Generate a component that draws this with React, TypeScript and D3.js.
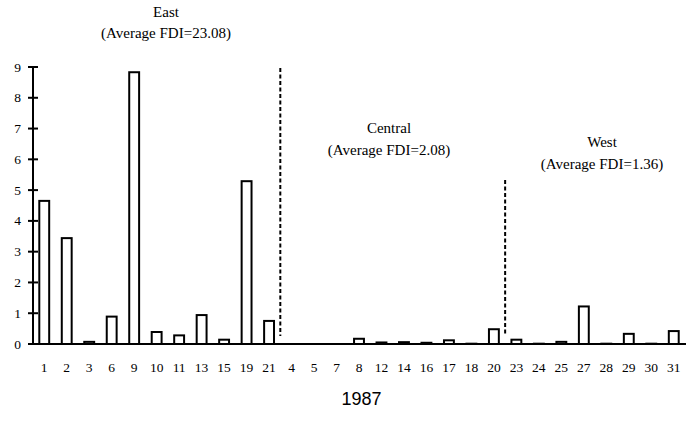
import React from "react";
import * as d3 from "d3";

const categories = ["1","2","3","6","9","10","11","13","15","19","21","4","5","7","8","12","14","16","17","18","20","23","24","25","27","28","29","30","31"];
const values = [4.65,3.44,0.07,0.89,8.83,0.39,0.28,0.94,0.14,5.29,0.75,0,0,0,0.17,0.05,0.06,0.04,0.12,0.01,0.48,0.14,0.01,0.07,1.22,0.01,0.33,0.01,0.42];
const yTicks = [0,1,2,3,4,5,6,7,8,9];
const regions = [
  { name: "East", avg: "(Average FDI=23.08)" },
  { name: "Central", avg: "(Average FDI=2.08)" },
  { name: "West", avg: "(Average FDI=1.36)" },
];
const yearLabel = "1987";

const W = 686, H = 433;
const left = 33, right = 685, top = 67, bottom = 344;
const serif = "'Liberation Serif'";
const sans = "'Liberation Sans'";

export default function App() {
  const x = d3.scaleBand<string>().domain(categories).range([left, right]).paddingInner(0.56).paddingOuter(0.28);
  const y = d3.scaleLinear().domain([0, 9]).range([bottom, top]);
  const boundary1 = (x("21")! + x("4")! + x.bandwidth()) / 2;
  const boundary2 = (x("20")! + x("23")! + x.bandwidth()) / 2;
  const labelPos = [
    { x: 166, y1: 17, y2: 38 },
    { x: 389, y1: 133, y2: 155 },
    { x: 602, y1: 147, y2: 169 },
  ];
  const serifStyle = { fontFamily: serif };
  return (
    <svg width={W} height={H} style={{ position: "absolute", left: 0, top: 0, background: "#fff" }}>
      {categories.map((c, i) => {
        const v = values[i];
        if (v <= 0) return null;
        const h = bottom - y(v);
        return (
          <rect key={c} x={x(c)!} y={y(v)} width={x.bandwidth()} height={h}
            fill="#fff" stroke="#000" strokeWidth={2} />
        );
      })}
      <line x1={left} x2={W} y1={bottom} y2={bottom} stroke="#000" strokeWidth={2} />
      {categories.map((c) => (
        <text key={"xl" + c} x={x(c)! + x.bandwidth() / 2} y={372} textAnchor="middle"
          style={serifStyle} fontSize={13.5} fill="#000">{c}</text>
      ))}
      <line x1={left} x2={left} y1={y(9)} y2={bottom + 1} stroke="#000" strokeWidth={2} />
      {yTicks.map((t) => (
        <g key={"yt" + t}>
          <line x1={left - 5} x2={left + 5} y1={y(t)} y2={y(t)} stroke="#000" strokeWidth={2} />
          <text x={21} y={y(t) + 4.5} textAnchor="end" style={serifStyle} fontSize={13.5} fill="#000">{t}</text>
        </g>
      ))}
      <line x1={boundary1} x2={boundary1} y1={68} y2={336} stroke="#000" strokeWidth={2} strokeDasharray="4,2.5" />
      <line x1={boundary2} x2={boundary2} y1={180} y2={336} stroke="#000" strokeWidth={2} strokeDasharray="4,2.5" />
      {regions.map((r, i) => (
        <g key={r.name}>
          <text x={labelPos[i].x} y={labelPos[i].y1} textAnchor="middle" style={serifStyle} fontSize={15} fill="#000">{r.name}</text>
          <text x={labelPos[i].x} y={labelPos[i].y2} textAnchor="middle" style={serifStyle} fontSize={15} fill="#000">{r.avg}</text>
        </g>
      ))}
      <text x={(left + W) / 2 + 2} y={405} textAnchor="middle" style={{ fontFamily: sans }} fontSize={18} fill="#000">{yearLabel}</text>
    </svg>
  );
}
